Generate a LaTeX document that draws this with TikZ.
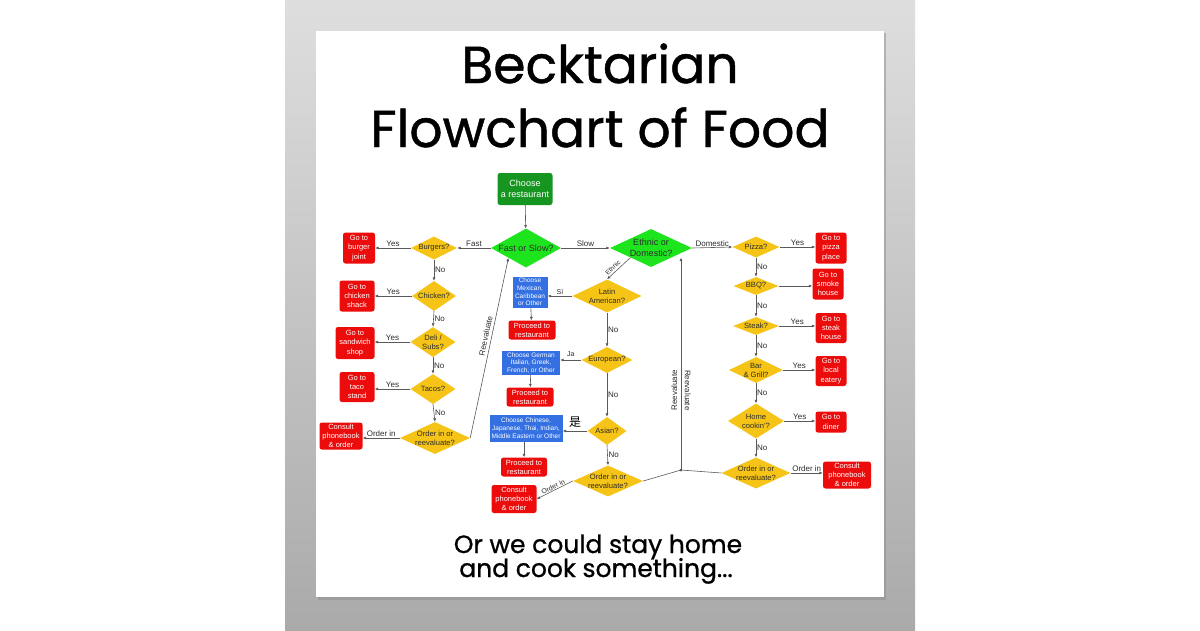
\documentclass[tikz,border=0pt]{standalone}
\usepackage{fontspec}
\setmainfont{Liberation Sans}
\newfontfamily\posterfont{Poppins}[FakeBold=0.9]
\newfontfamily\cjkfont{Noto Sans CJK SC}
\usetikzlibrary{shapes.geometric,arrows.meta}

\definecolor{startgreen}{RGB}{22,150,32}
\definecolor{mainqgreen}{RGB}{30,228,30}
\definecolor{qyellow}{RGB}{246,196,22}
\definecolor{gored}{RGB}{236,12,12}
\definecolor{choiceblue}{RGB}{52,112,226}
\definecolor{linegray}{RGB}{90,90,90}
\definecolor{darktext}{RGB}{45,45,45}

\tikzset{
  flow/.style={draw=linegray, line width=0.6pt, -{Latex[length=3.5pt,width=3pt]}},
  plain/.style={draw=linegray, line width=0.6pt},
  startbox/.style={rectangle, rounded corners=2.5pt, fill=startgreen, text=white,
    font=\fontsize{9}{10.5}\selectfont, align=center, inner sep=0pt},
  qtext/.style={font=\fontsize{7.6}{9}\selectfont, text=darktext, align=center, inner sep=0pt},
  mtext/.style={font=\fontsize{9}{10.5}\selectfont, text=darktext, align=center, inner sep=0pt},
  mainq/.style={diamond, fill=mainqgreen, inner sep=0pt, label={[mtext]center:#1}},
  question/.style={diamond, fill=qyellow, inner sep=0pt, label={[qtext]center:#1}},
  gobox/.style={rectangle, rounded corners=2.5pt, fill=gored, text=white,
    font=\fontsize{7.5}{9.3}\selectfont, align=center, inner sep=0pt},
  choicebox/.style={rectangle, fill=choiceblue, text=white,
    font=\fontsize{6.5}{7.7}\selectfont, align=center, inner sep=0pt},
  lbl/.style={font=\fontsize{8}{9}\selectfont, text=darktext, inner sep=0.8pt},
  smalllbl/.style={font=\fontsize{7}{8}\selectfont, text=darktext, inner sep=0.8pt},
}

\begin{document}
\begin{tikzpicture}[x=1pt,y=-1pt]
\useasboundingbox (0,0) rectangle (1200,630);
\fill[white] (0,0) rectangle (1200,630);
\shade[top color={rgb,255:red,222;green,222;blue,222}, bottom color={rgb,255:red,170;green,170;blue,170}]
  (285,0) rectangle (915,630);
% poster
\fill[black!45, opacity=0.5] (318,33) rectangle (886,600);
\fill[white] (316,31) rectangle (884,597);

% titles
\node[font=\posterfont\fontsize{52}{56}\selectfont, anchor=base] (title1) at (600,83) {Becktarian};
\node[font=\posterfont\fontsize{52}{56}\selectfont, anchor=base] (title2) at (600,147) {Flowchart of Food};
\node[font=\posterfont\fontsize{25}{28}\selectfont, anchor=base] (foot1) at (598,553) {Or we could stay home};
\node[font=\posterfont\fontsize{25}{28}\selectfont, anchor=base] (foot2) at (596,577) {and cook something...};

% start and main questions
\node[startbox, minimum width=55, minimum height=32] (choose) at (525,189) {Choose\\a restaurant};
\node[mainq={Fast or Slow?}, minimum width=70, minimum height=39] (fast) at (526,248) {};
\node[mainq={Ethnic or\\Domestic?}, minimum width=82, minimum height=38] (ethnic) at (651,248) {};

% fast column
\node[question=Burgers?, minimum width=46, minimum height=23] (burgers) at (434,248) {};
\node[gobox, minimum width=32, minimum height=31] (burgerjoint) at (359,248) {Go to\\burger\\joint};
\node[question=Chicken?, minimum width=44, minimum height=30] (chicken) at (434,296) {};
\node[gobox, minimum width=35, minimum height=31] (chickenshack) at (357,296) {Go to\\chicken\\shack};
\node[question={Deli /\\Subs?}, minimum width=45, minimum height=30] (deli) at (433,342) {};
\node[gobox, minimum width=39, minimum height=32] (sandwich) at (355,343) {Go to\\sandwich\\shop};
\node[question=Tacos?, minimum width=45, minimum height=30] (tacos) at (433,389) {};
\node[gobox, minimum width=35, minimum height=30] (tacostand) at (357,387) {Go to\\taco\\stand};
\node[question={Order in or\\reevaluate?}, minimum width=70, minimum height=32] (lorder) at (435,438) {};
\node[gobox, minimum width=43, minimum height=27] (lconsult) at (341,436) {Consult\\phonebook\\\& order};

% ethnic column
\node[question={Latin\\American?}, minimum width=69, minimum height=33] (latin) at (607,296) {};
\node[choicebox, minimum width=35, minimum height=31] (mexican) at (530,292) {Choose\\Mexican,\\Caribbean\\or Other};
\node[gobox, minimum width=47, minimum height=19] (mproceed) at (532,330) {Proceed to\\restaurant};
\node[question=European?, minimum width=51, minimum height=26] (european) at (607,360) {};
\node[choicebox, minimum width=58, minimum height=24] (eurochoice) at (531,363) {Choose German\\Italian, Greek,\\French,  or Other};
\node[gobox, minimum width=47, minimum height=19] (eproceed) at (530,397) {Proceed to\\restaurant};
\node[question=Asian?, minimum width=39, minimum height=28] (asian) at (607,431) {};
\node[choicebox, minimum width=73, minimum height=27] (asiachoice) at (526,428) {Choose Chinese,\\Japanese, Thai, Indian,\\Middle Eastern or Other};
\node[gobox, minimum width=46, minimum height=19] (aproceed) at (524,467) {Proceed to\\restaurant};
\node[question={Order in or\\reevaluate?}, minimum width=70, minimum height=31] (morder) at (608,481) {};
\node[gobox, minimum width=45, minimum height=28] (mconsult) at (514,499) {Consult\\phonebook\\\& order};

% domestic column
\node[question=Pizza?, minimum width=47, minimum height=21] (pizza) at (756,247) {};
\node[gobox, minimum width=31, minimum height=31] (pizzaplace) at (831,248) {Go to\\pizza\\place};
\node[question=BBQ?, minimum width=45, minimum height=18] (bbq) at (756,286) {};
\node[gobox, minimum width=31, minimum height=31] (smokehouse) at (828,284) {Go to\\smoke\\house};
\node[question=Steak?, minimum width=46, minimum height=18] (steak) at (756,326) {};
\node[gobox, minimum width=31, minimum height=30] (steakhouse) at (831,328) {Go to\\steak\\house};
\node[question={Bar\\\& Grill?}, minimum width=54, minimum height=26] (bargrill) at (756,370) {};
\node[gobox, minimum width=31, minimum height=30] (localeatery) at (831,371) {Go to\\local\\eatery};
\node[question={Home\\cookin'?}, minimum width=56, minimum height=35] (homecookin) at (756,421) {};
\node[gobox, minimum width=31, minimum height=21] (diner) at (831,422) {Go to\\diner};
\node[question={Order in or\\reevaluate?}, minimum width=69, minimum height=31] (rorder) at (756,473) {};
\node[gobox, minimum width=48, minimum height=27] (rconsult) at (847,475) {Consult\\phonebook\\\& order};
\coordinate (junction) at (681,470);

% connectors
\draw[flow] (choose) -- (fast);
\draw[flow] (fast.west) -- node[lbl, above] {Fast} (burgers.east);
\draw[flow] (fast.east) -- node[lbl, above] {Slow} (ethnic.west);
\draw[flow] (burgers.west) -- node[lbl, above] {Yes} (burgers.west -| burgerjoint.east);
\draw[flow] (burgers.south) -- node[lbl, right] {No} (chicken.north);
\draw[flow] (chicken.west) -- node[lbl, above] {Yes} (chicken.west -| chickenshack.east);
\draw[flow] (chicken.south) -- node[lbl, right] {No} (deli.north);
\draw[flow] (deli.west) -- node[lbl, above] {Yes} (deli.west -| sandwich.east);
\draw[flow] (deli.south) -- node[lbl, right] {No} (tacos.north);
\draw[flow] (tacos.west) -- node[lbl, above] {Yes} (tacos.west -| tacostand.east);
\draw[flow] (tacos.south) -- node[lbl, right] {No} (lorder.north);
\draw[flow] (lorder.west) -- node[lbl, above] {Order in} (lorder.west -| lconsult.east);
\draw[flow] (lorder.east) -- node[lbl, above=2pt, sloped, pos=0.56] {Reevaluate} (fast.south west);

\draw[flow] (ethnic.south west) -- node[smalllbl, above=1pt, sloped, pos=0.62, font=\fontsize{6.5}{7}\selectfont] {Ethnic} (latin.north);
\draw[flow] (latin.west) -- node[smalllbl, above] {Sí} (latin.west -| mexican.east);
\draw[flow] (mexican) -- (mproceed);
\draw[flow] (latin.south) -- node[lbl, right] {No} (european.north);
\draw[flow] (european.west) -- node[smalllbl, above=2pt] {Ja} (european.west -| eurochoice.east);
\draw[flow] (eurochoice) -- (eproceed);
\draw[flow] (european.south) -- node[lbl, right] {No} (asian.north);
\draw[flow] (asian.west) -- node[font=\cjkfont\fontsize{12}{12}\selectfont, above=3pt, inner sep=0pt] {是} (asian.west -| asiachoice.east);
\draw[flow] (asiachoice.south -| aproceed.north) -- (aproceed.north);
\draw[flow] (asian.south) -- node[lbl, right] {No} (morder.north);
\draw[flow] (morder.west) -- node[smalllbl, above, sloped] {Order in} (mconsult.east);

\draw[flow] (ethnic.east) -- node[lbl, above] {Domestic} (pizza.west);
\draw[flow] (pizza.east) -- node[lbl, above] {Yes} (pizza.east -| pizzaplace.west);
\draw[flow] (pizza.south) -- node[lbl, right] {No} (bbq.north);
\draw[flow] (bbq.east) -- (bbq.east -| smokehouse.west);
\draw[flow] (bbq.south) -- node[lbl, right] {No} (steak.north);
\draw[flow] (steak.east) -- node[lbl, above] {Yes} (steak.east -| steakhouse.west);
\draw[flow] (steak.south) -- node[lbl, right] {No} (bargrill.north);
\draw[flow] (bargrill.east) -- node[lbl, above] {Yes} (bargrill.east -| localeatery.west);
\draw[flow] (bargrill.south) -- node[lbl, right] {No} (homecookin.north);
\draw[flow] (homecookin.east) -- node[lbl, above] {Yes} (homecookin.east -| diner.west);
\draw[flow] (homecookin.south) -- node[lbl, right] {No} (rorder.north);
\draw[flow] (rorder.east) -- node[lbl, above] {Order in} (rorder.east -| rconsult.west);

% reevaluate loop back to ethnic or domestic
\draw[plain] (morder.east) -- (junction);
\draw[plain] (rorder.west) -- (junction);
\draw[flow] (junction) -- node[lbl, pos=0.375, rotate=90, anchor=south, inner sep=3.5pt] {Reevaluate}
  node[lbl, pos=0.375, rotate=-90, anchor=south, inner sep=3.5pt] {Reevaluate} (junction |- ethnic.south east);
\fill[linegray] (junction) circle (1.5);
\end{tikzpicture}
\end{document}
